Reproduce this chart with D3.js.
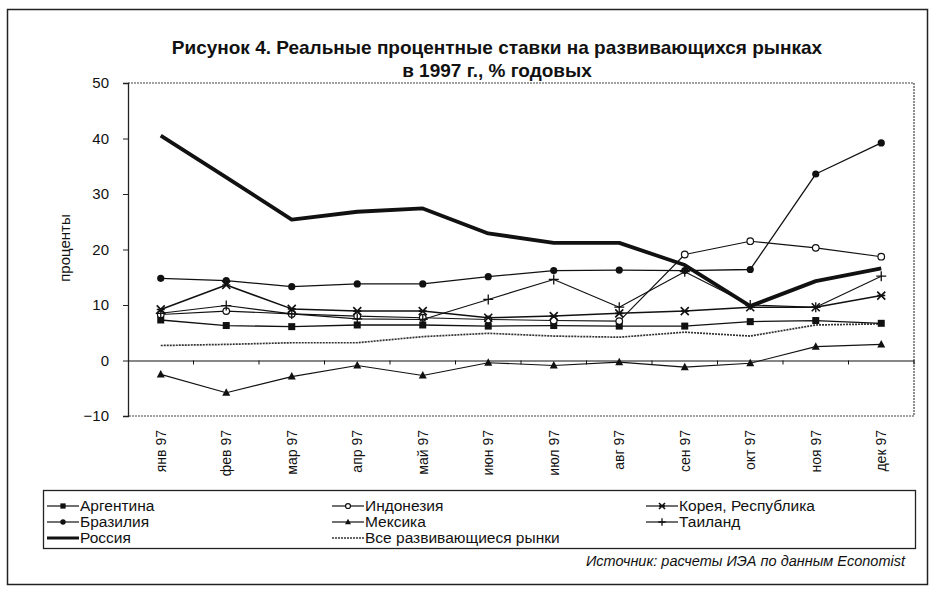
<!DOCTYPE html>
<html><head><meta charset="utf-8">
<script src="https://cdn.jsdelivr.net/npm/d3@7"></script>
<style>
body{margin:0;background:#fff;}
svg text{font-family:"Liberation Sans",Arial,sans-serif;fill:#111;}
</style></head>
<body><svg id="c" width="936" height="592"></svg>
<script>
const months = ["янв 97","фев 97","мар 97","апр 97","май 97","июн 97","июл 97","авг 97","сен 97","окт 97","ноя 97","дек 97"];
const yTicks = [-10,0,10,20,30,40,50];
const argentina = [7.3,6.3,6.1,6.4,6.4,6.2,6.3,6.2,6.2,7.0,7.2,6.7];
const indonesia = [8.3,8.9,8.4,8.0,7.7,7.4,7.2,7.1,19.1,21.5,20.3,18.7];
const korea     = [9.2,13.6,9.3,8.9,8.9,7.7,8.0,8.5,8.9,9.6,9.6,11.7];
const brazil    = [14.8,14.4,13.3,13.8,13.8,15.1,16.2,16.3,16.2,16.4,33.6,39.2];
const mexico    = [-2.5,-5.8,-2.9,-0.9,-2.7,-0.4,-0.9,-0.3,-1.2,-0.5,2.5,2.9];
const thailand  = [8.5,9.9,8.4,7.5,7.4,11.0,14.6,9.6,16.0,10.0,9.6,15.2];
const russia    = [40.5,33.0,25.4,26.8,27.4,22.9,21.2,21.2,17.2,9.8,14.3,16.6];
const allEM     = [2.7,2.9,3.2,3.2,4.3,4.9,4.4,4.2,5.1,4.4,6.4,6.6];
const seriesNames = ["Аргентина","Индонезия","Корея, Республика","Бразилия","Мексика","Таиланд","Россия","Все развивающиеся рынки"];
const titleLines = ["Рисунок 4. Реальные процентные ставки на развивающихся рынках","в 1997 г., % годовых"];
const yLabel = "проценты";
const sourceText = "Источник: расчеты ИЭА по  данным Economist";

const series = [
  {name:seriesNames[0], values:argentina, marker:"square", w:1.3, color:"#111"},
  {name:seriesNames[1], values:indonesia, marker:"ocircle", w:1.1, color:"#111"},
  {name:seriesNames[2], values:korea, marker:"star", w:1.5, color:"#111"},
  {name:seriesNames[3], values:brazil, marker:"circle", w:1.3, color:"#111"},
  {name:seriesNames[4], values:mexico, marker:"triangle", w:1.1, color:"#111"},
  {name:seriesNames[5], values:thailand, marker:"plus", w:1.1, color:"#111"},
  {name:seriesNames[6], values:russia, marker:null, w:3.8, color:"#111"},
  {name:seriesNames[7], values:allEM, marker:null, w:1.7, color:"#333", dash:"2,1"}
];

const svg = d3.select("#c");
const L=128,R=914,T=83,B=416;
const x = d3.scaleBand().domain(months).range([L,R]);
const y = d3.scaleLinear().domain([-10,50]).range([B,T]);

// outer frame
svg.append("rect").attr("x",7.5).attr("y",9.5).attr("width",920).attr("height",575)
  .attr("fill","none").attr("stroke","#222").attr("stroke-width",1.5);

// title
titleLines.forEach((t,i)=>{
  svg.append("text").attr("x",497).attr("y",54+i*23).attr("text-anchor","middle")
    .attr("font-size",19).attr("font-weight","bold").text(t);
});

// plot border (dotted top/right/bottom)
svg.append("path")
  .attr("d",`M${L},${T}H${R}V${B}H${L}`)
  .attr("fill","none").attr("stroke","#444").attr("stroke-width",1.2).attr("stroke-dasharray","2,1");

// y axis
const ya = svg.append("g").attr("transform",`translate(${L},0)`)
  .call(d3.axisLeft(y).tickValues(yTicks).tickSize(5).tickPadding(14).tickFormat(d3.format("d")));
ya.select(".domain").attr("stroke","#222").attr("stroke-width",1.3);
ya.selectAll(".tick line").attr("stroke","#222");
ya.selectAll("text").attr("font-size",15).style("fill","#111");

// zero axis with ticks at band boundaries
const xa = svg.append("g").attr("transform",`translate(0,${y(0)})`)
  .call(d3.axisBottom(x).tickSize(0).tickFormat(""));
xa.select(".domain").attr("stroke","#111").attr("stroke-width",1.2);
xa.selectAll(".tick").remove();
xa.selectAll(".bt").data(months.slice(1)).enter().append("line")
  .attr("x1",d=>x(d)).attr("x2",d=>x(d)).attr("y1",0).attr("y2",4).attr("stroke","#111");
xa.append("line").attr("x1",R).attr("x2",R).attr("y1",0).attr("y2",4).attr("stroke","#111");

// month labels at bottom
svg.append("g").selectAll("text").data(months).enter().append("text")
  .attr("transform",d=>`translate(${x(d)+x.bandwidth()/2},430) rotate(-90)`)
  .attr("text-anchor","end").attr("dy","0.35em").attr("font-size",14).text(d=>d);

// y label
svg.append("text").attr("transform","translate(70,248) rotate(-90)")
  .attr("text-anchor","middle").attr("font-size",15).text(yLabel);

// lines
const line = d3.line().x((d,i)=>x(months[i])+x.bandwidth()/2).y(d=>y(d));
function drawMarker(g,type,cx,cy,s){
  s = s||1;
  if(type==="square") g.append("rect").attr("x",cx-3.5*s).attr("y",cy-3.5*s).attr("width",7*s).attr("height",7*s).attr("fill","#111");
  else if(type==="circle") g.append("circle").attr("cx",cx).attr("cy",cy).attr("r",3.6*s).attr("fill","#111");
  else if(type==="ocircle") g.append("circle").attr("cx",cx).attr("cy",cy).attr("r",3.3*s).attr("fill","#fff").attr("stroke","#111").attr("stroke-width",1.2);
  else if(type==="triangle") g.append("path").attr("d",`M${cx},${cy-4.5*s}L${cx+4*s},${cy+3*s}L${cx-4*s},${cy+3*s}Z`).attr("fill","#111");
  else if(type==="plus") g.append("path").attr("d",`M${cx-5*s},${cy}H${cx+5*s}M${cx},${cy-5*s}V${cy+5*s}`).attr("stroke","#111").attr("stroke-width",1.3);
  else if(type==="star") g.append("path").attr("d",`M${cx-4*s},${cy-4*s}L${cx+4*s},${cy+4*s}M${cx+4*s},${cy-4*s}L${cx-4*s},${cy+4*s}M${cx-4*s},${cy}H${cx+4*s}`).attr("stroke","#111").attr("stroke-width",1.6);
}
const order = [7,4,0,1,5,2,3,6];
order.forEach(k=>{
  const s = series[k];
  const g = svg.append("g");
  g.append("path").datum(s.values).attr("d",line).attr("fill","none")
    .attr("stroke",s.color).attr("stroke-width",s.w).attr("stroke-linejoin","round")
    .attr("stroke-dasharray",s.dash||null);
  if(s.marker) s.values.forEach((v,i)=>drawMarker(g,s.marker,x(months[i])+x.bandwidth()/2,y(v)));
});

// legend
svg.append("rect").attr("x",43.5).attr("y",490.5).attr("width",872).attr("height",58)
  .attr("fill","none").attr("stroke","#222").attr("stroke-width",1.3);
const legPos = [[47,506],[332,506],[646,506],[47,522],[332,522],[646,522],[47,538],[332,538]];
series.forEach((s,i)=>{
  const [lx,ly] = legPos[i];
  const g = svg.append("g");
  g.append("line").attr("x1",lx).attr("x2",lx+32).attr("y1",ly).attr("y2",ly)
    .attr("stroke",s.color).attr("stroke-width",s.marker?1.2:(s.w>3?3:1.6)).attr("stroke-dasharray",s.dash||null);
  if(s.marker) drawMarker(g,s.marker,lx+16,ly,0.75);
  g.append("text").attr("x",lx+33).attr("y",ly+5).attr("font-size",15.5).text(s.name);
});

// source
svg.append("text").attr("x",905).attr("y",566).attr("text-anchor","end")
  .attr("font-size",14.5).attr("font-style","italic").text(sourceText);
</script></body></html>
